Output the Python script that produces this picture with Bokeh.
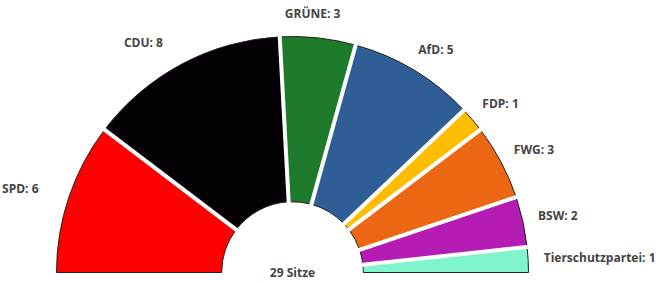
import math
from bokeh.plotting import figure
from bokeh.models import Range1d, ColumnDataSource
from bokeh.core.properties import value
from bokeh.embed import file_html
from bokeh.resources import INLINE

parties = ["SPD", "CDU", "GRÜNE", "AfD", "FDP", "FWG", "BSW", "Tierschutzpartei"]
seats = [6, 8, 3, 5, 1, 3, 2, 1]
colors = ["#FF0000", "#050005", "#1E7A2B", "#2F5E97", "#FFBC00", "#EB6714", "#B41CB4", "#80F5CB"]
total_label = "29 Sitze"

W, H = 665, 283
R_PX = 236.0
CX_PX, CY_PX = 292.0, 11.0
INNER = 0.30

total = sum(seats)
starts, ends = [], []
cum = 0
for s in seats:
    ends.append(math.pi - cum * math.pi / total)
    cum += s
    starts.append(math.pi - cum * math.pi / total)

p = figure(width=W, height=H, output_backend="svg", toolbar_location=None,
           x_range=Range1d(-CX_PX / R_PX, (W - CX_PX) / R_PX),
           y_range=Range1d(-CY_PX / R_PX, (H - CY_PX) / R_PX),
           min_border=0)
p.axis.visible = False
p.grid.visible = False
p.outline_line_color = None
p.background_fill_color = "white"
p.border_fill_color = "white"

src = ColumnDataSource(dict(start=starts, end=ends, color=colors))
p.annular_wedge(x=0, y=0, inner_radius=INNER, outer_radius=1.0,
                start_angle="start", end_angle="end", direction="anticlock",
                fill_color="color", line_color="#222222", line_width=1, source=src)

# white separators between seats
bx0, by0, bx1, by1 = [], [], [], []
for a in ends[1:]:
    bx0.append(INNER * 0.9 * math.cos(a)); by0.append(INNER * 0.9 * math.sin(a))
    bx1.append(1.02 * math.cos(a)); by1.append(1.02 * math.sin(a))
p.segment(x0=bx0, y0=by0, x1=bx1, y1=by1, line_color="white", line_width=4)

# labels
lx, ly, lt, la = [], [], [], []
for name, s, a0, a1 in zip(parties, seats, starts, ends):
    m = (a0 + a1) / 2
    c = math.cos(m)
    lx.append(1.1 * c)
    ly.append(1.1 * math.sin(m))
    lt.append(f"{name}: {s}")
    la.append("right" if c < -0.2 else ("left" if c > 0.2 else "center"))
lsrc = ColumnDataSource(dict(x=lx, y=ly, text=lt, align=la))
p.text(x="x", y="y", text="text", text_align="align", text_baseline="middle",
       x_offset=-8, y_offset=-1,
       text_font=value("Open Sans"), text_font_size="12px", text_font_style="bold",
       text_color="#444444", source=lsrc)

p.text(x=[0], y=[0], text=[total_label], text_align="center", text_baseline="bottom",
       text_font=value("Open Sans"), text_font_size="12px", text_font_style="bold",
       text_color="#444444", y_offset=8)

open("out.html", "w").write(file_html(p, INLINE))
